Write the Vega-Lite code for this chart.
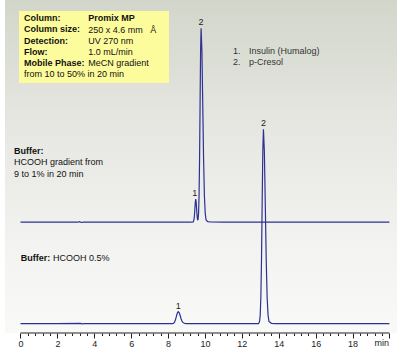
{
  "$schema": "https://vega.github.io/schema/vega-lite/v6.json",
  "width": 392,
  "height": 333,
  "autosize": "none",
  "padding": {"left": 5, "top": 0, "right": 0, "bottom": 14},
  "background": "white",
  "config": {"view": {"stroke": null}, "font": "Liberation Sans"},
  "resolve": {"axis": {"x": "independent"}},
  "datasets": {
    "traces": [
      {"trace": "gradient", "t": 0, "s": 101.5},
      {"trace": "gradient", "t": 1.5, "s": 101.5},
      {"trace": "gradient", "t": 3.1, "s": 101.5},
      {"trace": "gradient", "t": 3.2, "s": 102.1},
      {"trace": "gradient", "t": 3.3, "s": 101.2},
      {"trace": "gradient", "t": 3.4, "s": 101.5},
      {"trace": "gradient", "t": 5, "s": 101.6},
      {"trace": "gradient", "t": 7, "s": 101.5},
      {"trace": "gradient", "t": 8.5, "s": 101.6},
      {"trace": "gradient", "t": 9.2, "s": 101.5},
      {"trace": "gradient", "t": 9.365, "s": 101.75},
      {"trace": "gradient", "t": 9.41, "s": 104.6},
      {"trace": "gradient", "t": 9.4325, "s": 109.0},
      {"trace": "gradient", "t": 9.455, "s": 115.4},
      {"trace": "gradient", "t": 9.4775, "s": 121.8},
      {"trace": "gradient", "t": 9.5, "s": 124.5},
      {"trace": "gradient", "t": 9.5225, "s": 121.8},
      {"trace": "gradient", "t": 9.545, "s": 115.4},
      {"trace": "gradient", "t": 9.5675, "s": 109.1},
      {"trace": "gradient", "t": 9.59, "s": 104.9},
      {"trace": "gradient", "t": 9.6, "s": 104.0},
      {"trace": "gradient", "t": 9.625, "s": 104.2},
      {"trace": "gradient", "t": 9.6525, "s": 110.1},
      {"trace": "gradient", "t": 9.68, "s": 127.7},
      {"trace": "gradient", "t": 9.7075, "s": 164.5},
      {"trace": "gradient", "t": 9.735, "s": 219.2},
      {"trace": "gradient", "t": 9.7625, "s": 272.5},
      {"trace": "gradient", "t": 9.79, "s": 295.5},
      {"trace": "gradient", "t": 9.835, "s": 272.5},
      {"trace": "gradient", "t": 9.88, "s": 219.2},
      {"trace": "gradient", "t": 9.925, "s": 164.5},
      {"trace": "gradient", "t": 9.97, "s": 127.7},
      {"trace": "gradient", "t": 10.015, "s": 110.0},
      {"trace": "gradient", "t": 10.06, "s": 103.7},
      {"trace": "gradient", "t": 10.15, "s": 102.1},
      {"trace": "gradient", "t": 10.3, "s": 101.7},
      {"trace": "gradient", "t": 11, "s": 101.5},
      {"trace": "gradient", "t": 13, "s": 101.5},
      {"trace": "gradient", "t": 15, "s": 101.6},
      {"trace": "gradient", "t": 17, "s": 101.5},
      {"trace": "gradient", "t": 20, "s": 101.5},
      {"trace": "isocratic", "t": 0, "s": 0},
      {"trace": "isocratic", "t": 2, "s": 0},
      {"trace": "isocratic", "t": 3.25, "s": 0.3},
      {"trace": "isocratic", "t": 3.35, "s": -0.2},
      {"trace": "isocratic", "t": 3.45, "s": 0.1},
      {"trace": "isocratic", "t": 5, "s": 0},
      {"trace": "isocratic", "t": 7, "s": 0.1},
      {"trace": "isocratic", "t": 8.2, "s": 0},
      {"trace": "isocratic", "t": 8.25, "s": 0.1},
      {"trace": "isocratic", "t": 8.3, "s": 0.5},
      {"trace": "isocratic", "t": 8.35, "s": 1.6},
      {"trace": "isocratic", "t": 8.4, "s": 3.9},
      {"trace": "isocratic", "t": 8.45, "s": 7.3},
      {"trace": "isocratic", "t": 8.5, "s": 10.6},
      {"trace": "isocratic", "t": 8.55, "s": 12},
      {"trace": "isocratic", "t": 8.6, "s": 11.1},
      {"trace": "isocratic", "t": 8.65, "s": 8.4},
      {"trace": "isocratic", "t": 8.7, "s": 5.2},
      {"trace": "isocratic", "t": 8.75, "s": 2.7},
      {"trace": "isocratic", "t": 8.8, "s": 1.3},
      {"trace": "isocratic", "t": 8.9, "s": 0.2},
      {"trace": "isocratic", "t": 9.0, "s": 0},
      {"trace": "isocratic", "t": 10, "s": 0},
      {"trace": "isocratic", "t": 12, "s": 0},
      {"trace": "isocratic", "t": 12.9, "s": 0},
      {"trace": "isocratic", "t": 12.96, "s": 2.2},
      {"trace": "isocratic", "t": 12.995, "s": 8.6},
      {"trace": "isocratic", "t": 13.03, "s": 26.5},
      {"trace": "isocratic", "t": 13.065, "s": 64},
      {"trace": "isocratic", "t": 13.1, "s": 119},
      {"trace": "isocratic", "t": 13.135, "s": 172},
      {"trace": "isocratic", "t": 13.17, "s": 194.4},
      {"trace": "isocratic", "t": 13.22, "s": 172},
      {"trace": "isocratic", "t": 13.27, "s": 119},
      {"trace": "isocratic", "t": 13.32, "s": 64},
      {"trace": "isocratic", "t": 13.37, "s": 26.5},
      {"trace": "isocratic", "t": 13.42, "s": 8.6},
      {"trace": "isocratic", "t": 13.47, "s": 2.2},
      {"trace": "isocratic", "t": 13.6, "s": 0.4},
      {"trace": "isocratic", "t": 13.8, "s": 0.1},
      {"trace": "isocratic", "t": 15, "s": 0},
      {"trace": "isocratic", "t": 18, "s": 0},
      {"trace": "isocratic", "t": 20, "s": 0}
    ],
    "peaks": [
      {"label": "1", "t": 9.45, "s": 124.5},
      {"label": "2", "t": 9.79, "s": 295.5},
      {"label": "1", "t": 8.55, "s": 12},
      {"label": "2", "t": 13.17, "s": 194.4}
    ]
  },
  "layer": [
    {
      "data": {"values": [{}]},
      "mark": {"type": "rect", "color": {"gradient": "linear", "x1": 0, "y1": 0, "x2": 0, "y2": 1, "stops": [{"offset": 0, "color": "#d2d6ca"}, {"offset": 0.4, "color": "#e7e8e3"}, {"offset": 0.75, "color": "#f3f3f1"}, {"offset": 1, "color": "#f9f9f8"}]}},
      "encoding": {
        "x": {"datum": -0.84, "scale": {"domain": [-0.84, 20.41], "nice": false, "zero": false}, "axis": null},
        "x2": {"datum": 20.41},
        "y": {"datum": 323.7, "scale": {"domain": [-9.3, 323.7], "nice": false, "zero": false}, "axis": null},
        "y2": {"datum": -9.3}
      }
    },
    {
      "data": {"values": [{}]},
      "mark": {"type": "rect", "color": "#fdfc9c"},
      "encoding": {
        "x": {"datum": -0.081, "axis": null},
        "x2": {"datum": 8.049},
        "y": {"datum": 312.7, "axis": null},
        "y2": {"datum": 240.7}
      }
    },
    {
      "data": {"values": [{}]},
      "mark": {"type": "rule", "color": "#222", "strokeWidth": 1},
      "encoding": {
        "x": {
          "datum": 0,
          "axis": {
            "orient": "bottom",
            "values": [0.4,0.8,1.2,1.6,2.4,2.8,3.2,3.6,4.4,4.8,5.2,5.6,6.4,6.8,7.2,7.6,8.4,8.8,9.2,9.6,10.4,10.8,11.2,11.6,12.4,12.8,13.2,13.6,14.4,14.8,15.2,15.6,16.4,16.8,17.2,17.6,18.4,18.8,19.2,19.6],
            "domain": false,
            "grid": false,
            "labels": false,
            "title": null,
            "tickColor": "#222",
            "tickWidth": 1,
            "tickSize": 2.5
          }
        },
        "x2": {"datum": 20},
        "y": {"datum": -9.3, "axis": null}
      }
    },
    {
      "data": {"name": "traces"},
      "mark": {"type": "line", "color": "#2e3192", "strokeWidth": 1.2},
      "encoding": {
        "x": {
          "field": "t", "type": "quantitative",
          "scale": {"domain": [-0.84, 20.41], "nice": false, "zero": false},
          "axis": {
            "orient": "bottom",
            "values": [0,2,4,6,8,10,12,14,16,18,20],
            "domain": false,
            "grid": false,
            "title": "min",
            "titleFont": "Liberation Sans",
            "titleFontSize": 9,
            "titleFontWeight": "normal",
            "titleColor": "#222",
            "titleAngle": 0,
            "titleAlign": "left",
            "titleBaseline": "middle",
            "titleX": 369,
            "titleY": 9.5,
            "labelExpr": "datum.value > 19 ? '' : datum.label",
            "format": "d",
            "labelFont": "Liberation Sans",
            "labelFontSize": 9,
            "labelColor": "#222",
            "labelPadding": 1,
            "labelOverlap": false,
            "labelFlush": false,
            "tickColor": "#222",
            "tickWidth": 1,
            "tickSize": 5
          }
        },
        "y": {"field": "s", "type": "quantitative", "scale": {"domain": [-9.3, 323.7], "nice": false, "zero": false}, "axis": null},
        "detail": {"field": "trace"}
      }
    },
    {
      "data": {"name": "peaks"},
      "mark": {"type": "text", "align": "center", "baseline": "middle", "dy": -6, "fontSize": 9, "color": "#222", "font": "Liberation Sans"},
      "encoding": {
        "x": {"field": "t", "type": "quantitative", "axis": null},
        "y": {"field": "s", "type": "quantitative", "axis": null},
        "text": {"field": "label"}
      }
    },
    {
      "data": {"values": [{}]},
      "mark": {"type": "text", "align": "left", "baseline": "top", "fontSize": 9, "fontWeight": "bold", "lineHeight": 11.1, "color": "#111", "font": "Liberation Sans", "text": ["Column:", "Column size:", "Detection:", "Flow:", "Mobile Phase:"]},
      "encoding": {"x": {"datum": 0.19, "axis": null}, "y": {"datum": 309.3, "axis": null}}
    },
    {
      "data": {"values": [{}]},
      "mark": {"type": "text", "align": "left", "baseline": "top", "fontSize": 9, "fontWeight": "bold", "color": "#111", "font": "Liberation Sans", "text": "Promix MP"},
      "encoding": {"x": {"datum": 3.675, "axis": null}, "y": {"datum": 309.3, "axis": null}}
    },
    {
      "data": {"values": [{}]},
      "mark": {"type": "text", "align": "left", "baseline": "top", "fontSize": 9, "lineHeight": 11.1, "color": "#111", "font": "Liberation Sans", "text": ["250 x 4.6 mm\u00a0\u00a0 Å", "UV 270 nm", "1.0 mL/min", "MeCN gradient"]},
      "encoding": {"x": {"datum": 3.675, "axis": null}, "y": {"datum": 298.2, "axis": null}}
    },
    {
      "data": {"values": [{}]},
      "mark": {"type": "text", "align": "left", "baseline": "top", "fontSize": 9, "color": "#111", "font": "Liberation Sans", "text": "from 10 to 50% in 20 min"},
      "encoding": {"x": {"datum": 0.19, "axis": null}, "y": {"datum": 253.8, "axis": null}}
    },
    {
      "data": {"values": [{}]},
      "mark": {"type": "text", "align": "left", "baseline": "top", "fontSize": 9, "lineHeight": 11, "color": "#333", "font": "Liberation Sans", "text": ["1.", "2."]},
      "encoding": {"x": {"datum": 11.518, "axis": null}, "y": {"datum": 276.6, "axis": null}}
    },
    {
      "data": {"values": [{}]},
      "mark": {"type": "text", "align": "left", "baseline": "top", "fontSize": 9, "lineHeight": 11, "color": "#333", "font": "Liberation Sans", "text": ["Insulin (Humalog)", "p-Cresol"]},
      "encoding": {"x": {"datum": 12.385, "axis": null}, "y": {"datum": 276.6, "axis": null}}
    },
    {
      "data": {"values": [{}]},
      "mark": {"type": "text", "align": "left", "baseline": "top", "fontSize": 9, "fontWeight": "bold", "color": "#111", "font": "Liberation Sans", "text": "Buffer:"},
      "encoding": {"x": {"datum": -0.352, "axis": null}, "y": {"datum": 176.9, "axis": null}}
    },
    {
      "data": {"values": [{}]},
      "mark": {"type": "text", "align": "left", "baseline": "top", "fontSize": 9, "lineHeight": 11.2, "color": "#111", "font": "Liberation Sans", "text": ["\u00a0HCOOH gradient from", "9 to 1% in 20 min"]},
      "encoding": {"x": {"datum": -0.352, "axis": null}, "y": {"datum": 165.3, "axis": null}}
    },
    {
      "data": {"values": [{}]},
      "mark": {"type": "text", "align": "left", "baseline": "top", "fontSize": 9, "fontWeight": "bold", "color": "#111", "font": "Liberation Sans", "text": "Buffer:"},
      "encoding": {"x": {"datum": 0.011, "axis": null}, "y": {"datum": 69.3, "axis": null}}
    },
    {
      "data": {"values": [{}]},
      "mark": {"type": "text", "align": "left", "baseline": "top", "fontSize": 9, "color": "#111", "font": "Liberation Sans", "text": "HCOOH 0.5%"},
      "encoding": {"x": {"datum": 1.76, "axis": null}, "y": {"datum": 69.3, "axis": null}}
    }
  ]
}
